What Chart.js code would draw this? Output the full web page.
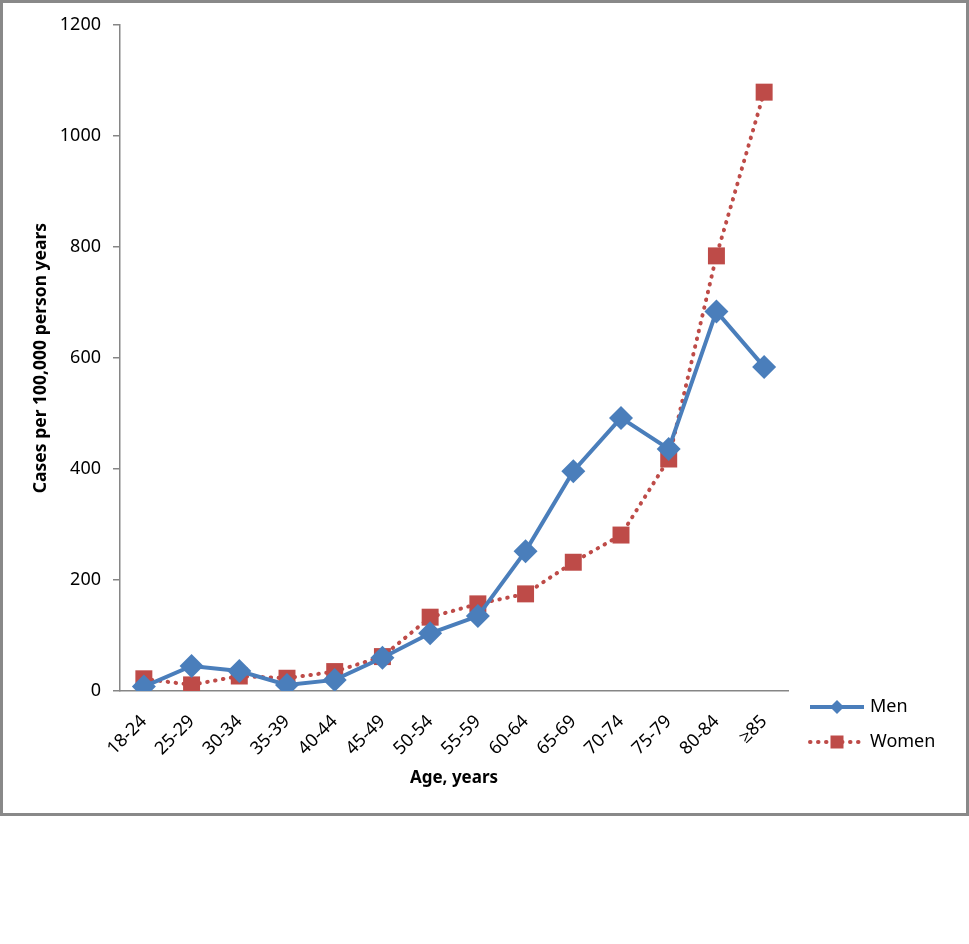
<!DOCTYPE html>
<html>
<head>
<meta charset="utf-8">
<script src="https://cdn.jsdelivr.net/npm/chart.js@4/dist/chart.umd.min.js"></script>
<style>
  html, body { margin: 0; padding: 0; background: #fff; }
  #wrap { position: relative; width: 969px; height: 944px; }
</style>
</head>
<body>
<div id="wrap"><canvas id="chart" width="969" height="944"></canvas></div>
<script>
  const ageGroups = ['18-24', '25-29', '30-34', '35-39', '40-44', '45-49', '50-54',
                     '55-59', '60-64', '65-69', '70-74', '75-79', '80-84', '\u226585'];
  const men   = [8, 45, 36, 11, 20, 60, 104, 135, 252, 396, 492, 436, 684, 584];
  const women = [22, 11, 27, 23, 35, 62, 133, 157, 175, 232, 281, 418, 784, 1079];
  const yTicks = [0, 200, 400, 600, 800, 1000, 1200];

  const BLUE = '#4a7ebb';
  const RED = '#be4b48';
  const AXIS = '#868686';
  const FONT = '"Noto Sans", "Open Sans", sans-serif';

  // grey frame round the chart object + legend on the right
  const frameAndLegend = {
    id: 'frameAndLegend',
    beforeDraw(chart) {
      const ctx = chart.ctx;
      ctx.save();
      ctx.fillStyle = '#fff';
      ctx.fillRect(0, 0, chart.width, chart.height);
      ctx.strokeStyle = '#898989';
      ctx.lineWidth = 3;
      ctx.strokeRect(1.5, 1.5, 966, 813);
      ctx.restore();
    },
    afterDraw(chart) {
      const ctx = chart.ctx;
      const items = [
        { label: 'Men', color: BLUE, dash: [], width: 4, shape: 'diamond', y: 707 },
        { label: 'Women', color: RED, dash: [0.5, 7.5], width: 4, shape: 'square', y: 742 }
      ];
      ctx.save();
      for (const it of items) {
        ctx.strokeStyle = it.color;
        ctx.lineWidth = it.width;
        ctx.lineCap = it.dash.length ? 'round' : 'butt';
        ctx.setLineDash(it.dash);
        ctx.beginPath();
        ctx.moveTo(810, it.y);
        ctx.lineTo(864, it.y);
        ctx.stroke();
        ctx.setLineDash([]);
        ctx.fillStyle = it.color;
        ctx.beginPath();
        if (it.shape === 'diamond') {
          ctx.moveTo(837, it.y - 7);
          ctx.lineTo(844, it.y);
          ctx.lineTo(837, it.y + 7);
          ctx.lineTo(830, it.y);
          ctx.closePath();
        } else {
          ctx.rect(830.5, it.y - 6.5, 13, 13);
        }
        ctx.fill();
        ctx.fillStyle = '#000';
        ctx.font = '18px ' + FONT;
        ctx.textAlign = 'left';
        ctx.textBaseline = 'middle';
        ctx.fillText(it.label, 870, it.y);
      }
      ctx.restore();
    }
  };

  new Chart(document.getElementById('chart'), {
    type: 'line',
    data: {
      labels: ageGroups,
      datasets: [
        {
          label: 'Men',
          data: men,
          borderColor: BLUE,
          backgroundColor: BLUE,
          borderWidth: 4,
          pointStyle: 'rectRot',
          pointRadius: 12,
          pointBorderWidth: 0,
          tension: 0
        },
        {
          label: 'Women',
          data: women,
          borderColor: RED,
          backgroundColor: RED,
          borderWidth: 4,
          borderDash: [0.5, 7.5],
          borderCapStyle: 'round',
          pointStyle: 'rect',
          pointRadius: 12,
          pointBorderWidth: 0,
          tension: 0
        }
      ]
    },
    options: {
      responsive: false,
      animation: false,
      layout: { padding: { top: 25, left: 20, right: 181, bottom: 144 } },
      plugins: {
        legend: { display: false },
        tooltip: { enabled: false }
      },
      scales: {
        x: {
          offset: true,
          grid: { display: false, drawTicks: false },
          border: { display: true, color: AXIS, width: 1.5 },
          ticks: {
            color: '#000',
            font: { family: FONT, size: 18 },
            minRotation: 45,
            maxRotation: 45,
            padding: 20,
            autoSkip: false
          },
          title: {
            display: true,
            text: 'Age, years',
            color: '#000',
            font: { family: FONT, size: 17, weight: 'bold' },
            padding: { top: 0, bottom: 12 }
          },
          afterFit: (scale) => { scale.height = 109; }
        },
        y: {
          min: 0,
          max: 1200,
          afterBuildTicks: (scale) => { scale.ticks = yTicks.map(v => ({ value: v })); },
          grid: { drawOnChartArea: false, drawTicks: true, tickLength: 7, color: AXIS, lineWidth: 1.5 },
          border: { display: true, color: AXIS, width: 1.5 },
          ticks: {
            color: '#000',
            font: { family: FONT, size: 18 },
            padding: 12,
            callback: (v) => String(v)
          },
          title: {
            display: true,
            text: 'Cases per 100,000 person years',
            color: '#000',
            font: { family: FONT, size: 17.5, weight: 'bold' },
            padding: { top: 11, bottom: 0 }
          },
          afterFit: (scale) => { scale.width = 100; }
        }
      }
    },
    plugins: [frameAndLegend]
  });
</script>
</body>
</html>
